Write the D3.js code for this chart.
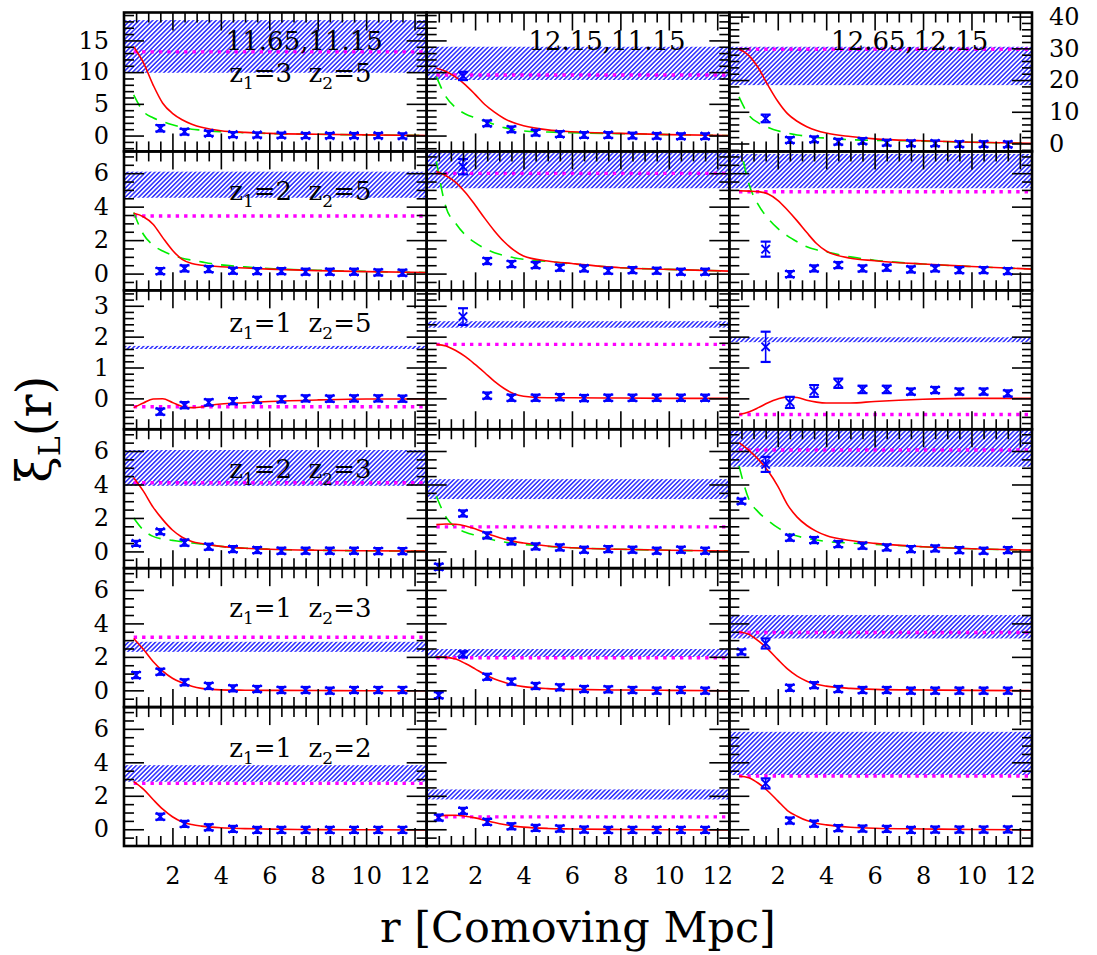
<!DOCTYPE html>
<html>
<head>
<meta charset="utf-8">
<script src="https://cdn.jsdelivr.net/npm/d3@7"></script>
<style>
  body { margin: 0; background: #fff; }
  svg { display: block; }
  text { font-family: "DejaVu Serif", serif; fill: #000; white-space: pre; }
</style>
</head>
<body>
<svg id="chart" width="1097" height="955"></svg>
<script>
// ---- data -------------------------------------------------------------
// separation bins (comoving Mpc) of the measured points
const sepBins = [0.5, 1.5, 2.5, 3.5, 4.5, 5.5, 6.5, 7.5, 8.5, 9.5, 10.5, 11.5];
// radii at which the model curves are tabulated
const modelGrid = [0.4, 0.8, 1.2, 1.6, 2.0, 2.4, 2.8, 3.2, 3.6, 4.0, 5, 6, 8, 10, 12.5];

// column headers (log halo masses) and row redshift pairs
const massLabels = ["11.65,11.15", "12.15,11.15", "12.65,12.15"];
const zPairs = [[3, 5], [2, 5], [1, 5], [2, 3], [1, 3], [1, 2]];

// y ranges: top row has one per column, other rows shared across columns
const topRowDomains = [[-2.5, 19.4], [-2.5, 19.4], [-2.5, 41.3]];
const rowDomains = [null, [-1, 7.3], [-1, 3.5], [-1, 7.3], [-1, 7.3], [-1, 7.3]];
const topRowSteps = [[5, 1], [5, 1], [10, 2]];
const rowSteps = [null, [2, 0.5], [1, 0.2], [2, 0.5], [2, 0.5], [2, 0.5]];
const xTickLabels = [2, 4, 6, 8, 10, 12];
const leftTickLabels = [[0, 5, 10, 15], [0, 2, 4, 6], [0, 1, 2, 3], [0, 2, 4, 6], [0, 2, 4, 6], [0, 2, 4, 6]];
const rightTickLabels = [0, 10, 20, 30, 40];

// panels in reading order (row by row, left to right)
// allowed range of the large-scale plateau (hatched band)
const bandLow  = [9.9, 8.76, 18.4, 4.53, 5.1, 5.1, 1.6, 2.29, 1.82, 3.92, 3.13, 5.06, 2.3, 2.0, 3.1, 2.84, 1.78, 3.24];
const bandHigh = [18.2, 14.0, 30.5, 6.09, 7.2, 7.15, 1.7, 2.5, 1.98, 6.06, 4.32, 7.5, 2.9, 2.47, 4.5, 3.83, 2.38, 5.82];
// plateau level (dotted line)
const plateau  = [13.2, 9.55, 29.7, 3.44, 5.99, 4.89, -0.27, 1.75, -0.52, 4.1, 1.47, 6.06, 3.17, 1.95, 3.46, 2.74, 0.74, 3.18];

// model xi_L(r) (solid red)
const modelXi = [
  [14.0, 11.5, 8.0, 5.1, 3.5, 2.5, 1.8, 1.3, 1.0, 0.77, 0.5, 0.35, 0.2, 0.1, 0.02],
  [10.6, 10.1, 9.2, 8.0, 6.5, 4.9, 3.7, 2.7, 2.0, 1.55, 0.9, 0.6, 0.35, 0.15, 0.0],
  [29.8, 27.8, 23.8, 18.3, 13.3, 9.4, 7.0, 5.3, 4.1, 3.3, 2.2, 1.45, 0.85, 0.4, 0.05],
  [3.6, 3.4, 2.95, 2.15, 1.4, 0.85, 0.6, 0.5, 0.45, 0.41, 0.33, 0.27, 0.18, 0.12, 0.07],
  [6.1, 5.85, 5.45, 4.85, 4.1, 3.3, 2.55, 1.9, 1.4, 1.05, 0.75, 0.6, 0.35, 0.25, 0.15],
  [4.95, 4.93, 4.9, 4.75, 4.38, 3.8, 3.15, 2.45, 1.8, 1.35, 0.92, 0.77, 0.57, 0.42, 0.27],
  [-0.3, -0.15, -0.02, -0.01, -0.13, -0.26, -0.3, -0.28, -0.22, -0.18, -0.14, -0.1, -0.05, -0.02, -0.02],
  [1.75, 1.7, 1.55, 1.35, 1.1, 0.83, 0.55, 0.32, 0.15, 0.07, 0.02, 0.02, 0.01, 0.0, 0.0],
  [-0.52, -0.44, -0.3, -0.14, -0.02, 0.05, 0.03, -0.06, -0.12, -0.15, -0.15, -0.1, -0.03, 0.0, 0.0],
  [4.4, 3.6, 2.65, 1.9, 1.28, 0.85, 0.6, 0.47, 0.38, 0.3, 0.19, 0.13, 0.07, 0.04, 0.02],
  [1.6, 1.64, 1.62, 1.52, 1.35, 1.13, 0.92, 0.74, 0.6, 0.5, 0.32, 0.22, 0.13, 0.07, 0.03],
  [6.5, 6.05, 5.5, 4.8, 3.9, 2.8, 2.05, 1.55, 1.2, 0.95, 0.65, 0.48, 0.28, 0.16, 0.08],
  [3.1, 2.45, 1.72, 1.15, 0.72, 0.45, 0.25, 0.12, 0.06, 0.03, 0.01, 0.0, -0.01, -0.02, -0.02],
  [2.0, 1.97, 1.87, 1.6, 1.28, 0.95, 0.68, 0.48, 0.32, 0.22, 0.1, 0.06, 0.02, 0.0, -0.02],
  [3.5, 3.35, 2.95, 2.45, 1.85, 1.28, 0.85, 0.55, 0.36, 0.25, 0.12, 0.06, 0.02, 0.0, -0.02],
  [2.85, 2.4, 1.78, 1.2, 0.75, 0.44, 0.28, 0.19, 0.13, 0.09, 0.04, 0.01, -0.02, -0.03, -0.04],
  [0.78, 0.83, 0.84, 0.78, 0.68, 0.54, 0.4, 0.28, 0.19, 0.13, 0.05, 0.02, -0.01, -0.03, -0.04],
  [3.18, 3.08, 2.75, 2.27, 1.7, 1.12, 0.78, 0.52, 0.36, 0.26, 0.12, 0.06, 0.02, -0.01, -0.04]
];

// linear-theory xi (dashed green), only where it was computed
const linearXi = [
  [6.4, 3.8, 2.8, 2.2, 1.7, 1.3, 1.0, 0.85, 0.7, 0.6, 0.45, 0.33, 0.2, 0.1, 0.02],
  [9.3, 6.1, 4.4, 3.4, 2.8, 2.3, 1.75, 1.25, 0.95, 0.72, 0.55, 0.45, 0.3, 0.15, 0.0],
  [14.7, 9.0, 6.5, 5.1, 4.0, 3.3, 2.7, 2.3, 1.9, 1.7, 1.2, 1.0, 0.75, 0.4, 0.05],
  [3.65, 2.35, 1.7, 1.35, 1.1, 0.92, 0.8, 0.7, 0.6, 0.52, 0.4, 0.3, 0.2, 0.13, 0.07],
  [6.7, 3.95, 3.0, 2.3, 1.85, 1.5, 1.25, 1.08, 0.95, 0.86, 0.72, 0.58, 0.35, 0.25, 0.15],
  [8.0, 5.4, 4.1, 3.3, 2.7, 2.25, 1.9, 1.6, 1.42, 1.3, 1.0, 0.8, 0.57, 0.42, 0.27],
  null, null, null,
  [2.0, 1.28, 0.9, 0.74, 0.66, 0.58, 0.5, 0.44, 0.38, 0.3, 0.19, 0.13, 0.07, 0.04, 0.02],
  [3.3, 2.05, 1.42, 1.15, 0.97, 0.82, 0.67, 0.56, 0.48, 0.42, 0.3, 0.22, 0.13, 0.07, 0.03],
  [5.1, 3.15, 2.35, 1.85, 1.42, 1.1, 0.92, 0.78, 0.68, 0.6, 0.5, 0.42, 0.28, 0.16, 0.08],
  null, null, null, null, null, null
];

// measured xi_L in each separation bin (null = not shown)
const measuredXi = [
  [null, 1.15, 0.6, 0.35, 0.15, 0.1, 0.05, 0.0, 0.0, 0.0, 0.0, -0.05],
  [null, 9.4, 1.93, 0.98, 0.45, 0.24, 0.09, 0.09, 0.0, -0.05, -0.1, -0.1],
  [null, 7.9, 1.09, 1.31, 0.56, 0.78, 0.24, 0.05, 0.05, -0.17, -0.17, -0.26],
  [null, 0.15, 0.31, 0.27, 0.17, 0.15, 0.15, 0.11, 0.11, 0.11, 0.07, 0.05],
  [null, 6.39, 0.75, 0.57, 0.51, 0.35, 0.31, 0.17, 0.21, 0.17, 0.11, 0.11],
  [null, 1.46, -0.03, 0.31, 0.51, 0.31, 0.35, 0.25, 0.31, 0.21, 0.21, 0.15],
  [null, -0.43, -0.22, -0.13, -0.09, -0.05, -0.03, 0.0, -0.01, 0.0, 0.0, -0.01],
  [null, 2.65, 0.09, 0.02, 0.02, 0.04, 0.01, 0.02, 0.02, 0.02, 0.02, 0.02],
  [null, 1.67, -0.13, 0.24, 0.49, 0.29, 0.29, 0.22, 0.27, 0.22, 0.22, 0.16],
  [0.48, 1.18, 0.52, 0.28, 0.14, 0.08, 0.04, 0.04, 0.04, 0.04, 0.02, 0.02],
  [-0.92, 2.27, 0.96, 0.6, 0.3, 0.24, 0.1, 0.14, 0.1, 0.04, 0.1, 0.04],
  [3.0, 5.2, 0.82, 0.68, 0.44, 0.34, 0.24, 0.14, 0.18, 0.08, 0.04, 0.08],
  [0.91, 1.11, 0.48, 0.26, 0.12, 0.08, 0.02, 0.02, -0.02, 0.02, 0.02, 0.02],
  [-0.29, 2.15, 0.81, 0.52, 0.26, 0.18, 0.08, 0.06, 0.02, -0.02, 0.02, -0.02],
  [2.3, 2.8, 0.15, 0.31, 0.08, 0.02, 0.02, -0.02, -0.02, -0.02, -0.02, -0.02],
  [null, 0.75, 0.32, 0.12, 0.02, -0.04, -0.04, -0.04, -0.04, -0.04, -0.04, -0.04],
  [0.7, 1.1, 0.44, 0.18, 0.08, 0.04, -0.02, -0.04, -0.04, -0.04, -0.04, -0.04],
  [null, 2.74, 0.52, 0.33, 0.07, 0.04, 0.02, -0.04, -0.02, -0.02, -0.02, -0.01]
];

// 1-sigma errors of the measured points
const measuredErr = [
  [0.5, 0.5, 0.45, 0.4, 0.4, 0.4, 0.4, 0.4, 0.4, 0.4, 0.4, 0.4],
  [0.45, 0.65, 0.45, 0.45, 0.45, 0.45, 0.45, 0.45, 0.45, 0.45, 0.45, 0.45],
  [0.9, 1.2, 0.9, 0.9, 0.9, 0.9, 0.9, 0.9, 0.9, 0.9, 0.9, 0.9],
  [0.18, 0.18, 0.18, 0.18, 0.18, 0.18, 0.18, 0.18, 0.18, 0.18, 0.18, 0.18],
  [0.18, 0.46, 0.18, 0.18, 0.18, 0.18, 0.18, 0.18, 0.18, 0.18, 0.18, 0.18],
  [0.18, 0.45, 0.18, 0.18, 0.18, 0.18, 0.18, 0.18, 0.18, 0.18, 0.18, 0.18],
  [0.1, 0.1, 0.1, 0.1, 0.1, 0.1, 0.1, 0.1, 0.1, 0.1, 0.1, 0.1],
  [0.1, 0.27, 0.1, 0.1, 0.1, 0.1, 0.1, 0.1, 0.1, 0.1, 0.1, 0.1],
  [0.1, 0.49, 0.18, 0.19, 0.15, 0.12, 0.12, 0.1, 0.1, 0.1, 0.1, 0.1],
  [0.15, 0.15, 0.18, 0.18, 0.18, 0.18, 0.18, 0.18, 0.18, 0.18, 0.18, 0.18],
  [0.18, 0.18, 0.18, 0.18, 0.18, 0.18, 0.18, 0.18, 0.18, 0.18, 0.18, 0.18],
  [0.15, 0.45, 0.18, 0.18, 0.18, 0.18, 0.18, 0.18, 0.18, 0.18, 0.18, 0.18],
  [0.18, 0.18, 0.18, 0.18, 0.18, 0.18, 0.18, 0.18, 0.18, 0.18, 0.18, 0.18],
  [0.18, 0.18, 0.18, 0.18, 0.18, 0.18, 0.18, 0.18, 0.18, 0.18, 0.18, 0.18],
  [0.15, 0.3, 0.18, 0.18, 0.18, 0.18, 0.18, 0.18, 0.18, 0.18, 0.18, 0.18],
  [0.18, 0.18, 0.18, 0.18, 0.18, 0.18, 0.18, 0.18, 0.18, 0.18, 0.18, 0.18],
  [0.18, 0.18, 0.18, 0.18, 0.18, 0.18, 0.18, 0.18, 0.18, 0.18, 0.18, 0.18],
  [0.18, 0.3, 0.18, 0.18, 0.18, 0.18, 0.18, 0.18, 0.18, 0.18, 0.18, 0.18]
];

// ---- layout -----------------------------------------------------------
const svg = d3.select("#chart");
const frameLeft = 124, frameRight = 1032, frameTop = 12.5, frameBottom = 846;
const nCols = 3, nRows = 6;
const pw = (frameRight - frameLeft) / nCols;
const ph = (frameBottom - frameTop) / nRows;
const rDomain = [0, 12.5];

const BLUE = "#0000ff", RED = "#ff0000", GREEN = "#00ee00", MAGENTA = "#ff00ff";

const defs = svg.append("defs");
const hatch = defs.append("pattern")
  .attr("id", "hatch")
  .attr("patternUnits", "userSpaceOnUse")
  .attr("width", 3.2).attr("height", 3.2)
  .attr("patternTransform", "rotate(45)");
hatch.append("rect").attr("width", 3.2).attr("height", 3.2).attr("fill", "#fff");
hatch.append("line")
  .attr("x1", 0.8).attr("y1", -1).attr("x2", 0.8).attr("y2", 4.2)
  .attr("stroke", BLUE).attr("stroke-width", 1.25);

// tick positions between lo and hi at a given step, skipping multiples of skipStep
function tickRange(lo, hi, step, skipStep) {
  const out = [];
  const start = Math.ceil(lo / step - 1e-9);
  const end = Math.floor(hi / step + 1e-9);
  for (let k = start; k <= end; k++) {
    const v = +(k * step).toFixed(6);
    if (v <= lo + 1e-9 || v >= hi - 1e-9) continue;
    if (skipStep && Math.abs(v / skipStep - Math.round(v / skipStep)) < 1e-6) continue;
    out.push(v);
  }
  return out;
}

function styleAxis(g) {
  g.select(".domain").remove();
  g.selectAll(".tick line").attr("stroke", "#000").attr("stroke-width", 1.6);
  g.selectAll(".tick text").style("font-size", "24px").style("font-family", "'DejaVu Serif', serif").attr("fill", "#000");
}

const layers = {
  bands: svg.append("g"),
  curves: svg.append("g"),
  points: svg.append("g"),
  frames: svg.append("g"),
  text: svg.append("g")
};

for (let row = 0; row < nRows; row++) {
  for (let col = 0; col < nCols; col++) {
    const i = row * nCols + col;
    const px = frameLeft + col * pw;
    const py = frameTop + row * ph;
    const yDomain = row === 0 ? topRowDomains[col] : rowDomains[row];
    const [yMajor, yMinor] = row === 0 ? topRowSteps[col] : rowSteps[row];

    const xs = d3.scaleLinear().domain(rDomain).range([px, px + pw]);
    const ys = d3.scaleLinear().domain(yDomain).range([py + ph, py]);

    defs.append("clipPath").attr("id", "clip" + i)
      .append("rect").attr("x", px).attr("y", py).attr("width", pw).attr("height", ph);

    // hatched plateau band
    layers.bands.append("rect")
      .attr("clip-path", `url(#clip${i})`)
      .attr("x", px).attr("width", pw)
      .attr("y", ys(bandHigh[i]))
      .attr("height", ys(bandLow[i]) - ys(bandHigh[i]))
      .attr("fill", "url(#hatch)");

    const cg = layers.curves.append("g").attr("clip-path", `url(#clip${i})`);

    // plateau level
    cg.append("line")
      .attr("x1", xs(0.4)).attr("x2", xs(12.45))
      .attr("y1", ys(plateau[i])).attr("y2", ys(plateau[i]))
      .attr("stroke", MAGENTA).attr("stroke-width", 3.4)
      .attr("stroke-dasharray", "3.4,5");

    const line = d3.line()
      .x((d, k) => xs(modelGrid[k]))
      .y(d => ys(d))
      .curve(d3.curveMonotoneX);

    if (linearXi[i]) {
      cg.append("path").attr("d", line(linearXi[i]))
        .attr("fill", "none").attr("stroke", GREEN).attr("stroke-width", 1.6)
        .attr("stroke-dasharray", "13,9");
    }
    cg.append("path").attr("d", line(modelXi[i]))
      .attr("fill", "none").attr("stroke", RED).attr("stroke-width", 1.6);

    // measured points with error bars
    const pg = layers.points.append("g").attr("stroke", BLUE).attr("fill", "none");
    measuredXi[i].forEach((v, k) => {
      if (v === null) return;
      const cx = xs(sepBins[k]);
      const cy = ys(v);
      const e = Math.abs(ys(v - measuredErr[i][k]) - cy);
      pg.append("line").attr("x1", cx).attr("x2", cx).attr("y1", cy - e).attr("y2", cy + e).attr("stroke-width", 1.6);
      pg.append("line").attr("x1", cx - 5).attr("x2", cx + 5).attr("y1", cy - e).attr("y2", cy - e).attr("stroke-width", 2.2);
      pg.append("line").attr("x1", cx - 5).attr("x2", cx + 5).attr("y1", cy + e).attr("y2", cy + e).attr("stroke-width", 2.2);
      pg.append("line").attr("x1", cx - 4.2).attr("x2", cx + 4.2).attr("y1", cy - 4.2).attr("y2", cy + 4.2).attr("stroke-width", 1.9);
      pg.append("line").attr("x1", cx - 4.2).attr("x2", cx + 4.2).attr("y1", cy + 4.2).attr("y2", cy - 4.2).attr("stroke-width", 1.9);
    });

    // inward ticks on all four sides
    const fg = layers.frames.append("g");
    const xMajorTicks = tickRange(0, 12.5, 2, 0);
    const xMinorTicks = tickRange(0, 12.5, 0.5, 2);
    const yMajorTicks = tickRange(yDomain[0], yDomain[1], yMajor, 0);
    const yMinorTicks = tickRange(yDomain[0], yDomain[1], yMinor, yMajor);

    [[xMajorTicks, 18], [xMinorTicks, 10]].forEach(([vals, len]) => {
      fg.append("g").attr("transform", `translate(0,${py + ph})`)
        .call(d3.axisBottom(xs).tickValues(vals).tickSize(-len).tickFormat(""))
        .call(styleAxis);
      fg.append("g").attr("transform", `translate(0,${py})`)
        .call(d3.axisTop(xs).tickValues(vals).tickSize(-len).tickFormat(""))
        .call(styleAxis);
    });
    [[yMajorTicks, 20], [yMinorTicks, 10]].forEach(([vals, len]) => {
      fg.append("g").attr("transform", `translate(${px},0)`)
        .call(d3.axisLeft(ys).tickValues(vals).tickSize(-len).tickFormat(""))
        .call(styleAxis);
      fg.append("g").attr("transform", `translate(${px + pw},0)`)
        .call(d3.axisRight(ys).tickValues(vals).tickSize(-len).tickFormat(""))
        .call(styleAxis);
    });

    // tick labels
    if (row === nRows - 1) {
      fg.append("g").attr("transform", `translate(0,${py + ph})`)
        .call(d3.axisBottom(xs).tickValues(xTickLabels).tickSize(0).tickPadding(21).tickFormat(d3.format("d")))
        .call(styleAxis);
    }
    if (col === 0) {
      fg.append("g").attr("transform", `translate(${px},0)`)
        .call(d3.axisLeft(ys).tickValues(leftTickLabels[row]).tickSize(0).tickPadding(15).tickFormat(d3.format("d")))
        .call(styleAxis);
    }
    if (row === 0 && col === nCols - 1) {
      fg.append("g").attr("transform", `translate(${px + pw},0)`)
        .call(d3.axisRight(ys).tickValues(rightTickLabels).tickSize(0).tickPadding(17).tickFormat(d3.format("d")))
        .call(styleAxis);
    }

    // frame
    fg.append("rect").attr("x", px).attr("y", py).attr("width", pw).attr("height", ph)
      .attr("fill", "none").attr("stroke", "#000").attr("stroke-width", 2.6);
  }
}

// column headers
massLabels.forEach((lab, col) => {
  layers.text.append("text")
    .attr("x", frameLeft + col * pw + pw / 2 + 29)
    .attr("y", 50)
    .attr("text-anchor", "middle")
    .style("font-size", "26px")
    .text(lab);
});

// redshift pair labels in the first column
const zBaseline = [69, 49, 41.5, 49, 49, 49.5];
zPairs.forEach(([z1, z2], row) => {
  const t = layers.text.append("text")
    .attr("x", frameLeft + pw / 2 + 25)
    .attr("y", frameTop + row * ph + zBaseline[row])
    .attr("text-anchor", "middle")
    .style("font-size", "26px");
  t.append("tspan").text("z");
  t.append("tspan").attr("dy", 7).style("font-size", "17px").text("1");
  t.append("tspan").attr("dy", -7).text("=" + z1 + "\u00a0\u00a0z");
  t.append("tspan").attr("dy", 7).style("font-size", "17px").text("2");
  t.append("tspan").attr("dy", -7).text("=" + z2);
});

// axis titles
layers.text.append("text")
  .attr("x", (frameLeft + frameRight) / 2)
  .attr("y", 942)
  .attr("text-anchor", "middle")
  .style("font-size", "43px")
  .text("r [Comoving Mpc]");

const yt = layers.text.append("text")
  .attr("transform", `translate(51,${(frameTop + frameBottom) / 2}) rotate(-90)`)
  .attr("text-anchor", "middle")
  .style("font-size", "48px");
yt.append("tspan").text("\u03be");
yt.append("tspan").attr("dy", 9).style("font-size", "30px").text("L");
yt.append("tspan").attr("dy", -9).text("(r)");
</script>
</body>
</html>
